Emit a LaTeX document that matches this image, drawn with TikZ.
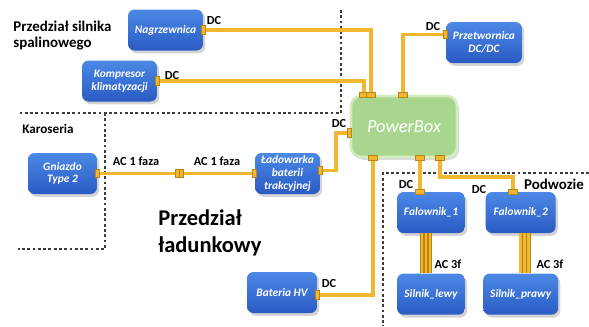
\documentclass[tikz,border=0pt]{standalone}
\usepackage{fontspec}
\setmainfont{Carlito}
\usetikzlibrary{positioning,calc,shadows}

\definecolor{unittop}{HTML}{4C88E6}
\definecolor{unitbot}{HTML}{2A5BC4}
\definecolor{hubfill}{HTML}{A8D68E}
\definecolor{hubedge}{HTML}{D2ECC0}
\definecolor{cablecol}{HTML}{F2B731}
\definecolor{cabledark}{HTML}{B98412}
\definecolor{zoneline}{HTML}{3C3C3C}

\begin{document}
\begin{tikzpicture}[x=0.02cm, y=-0.02cm,
  unit/.style={rounded corners=1.3mm, top color=unittop, bottom color=unitbot, draw=none,
    drop shadow={shadow xshift=1.2pt, shadow yshift=-1.6pt, opacity=0.35},
    minimum width=1.4cm, minimum height=0.82cm, align=center, inner sep=1pt,
    text=white, font=\fontsize{6.5}{7.2}\selectfont\bfseries\itshape},
  hub/.style={rounded corners=2mm, fill=hubfill, draw=hubedge, line width=1.5pt,
    drop shadow={shadow xshift=1.2pt, shadow yshift=-1.6pt, opacity=0.3},
    minimum width=2.12cm, minimum height=1.22cm, text=white,
    font=\fontsize{10.5}{12}\selectfont\itshape},
  cable/.style={draw=cablecol, line width=2.2pt},
  phase/.style={draw=cabledark, line width=0.3pt, double=cablecol, double distance=1.7pt},
  plugv/.style={draw=cabledark, fill=cablecol, line width=0.4pt, inner sep=0pt,
    minimum width=0.19cm, minimum height=0.1cm},
  plugh/.style={draw=cabledark, fill=cablecol, line width=0.4pt, inner sep=0pt,
    minimum width=0.08cm, minimum height=0.17cm},
  tag/.style={font=\fontsize{7}{8}\selectfont\bfseries, inner sep=0pt},
  zone/.style={font=\fontsize{8.5}{9}\selectfont\bfseries, align=left, inner sep=0pt},
  border/.style={draw=zoneline, line width=0.8pt, dash pattern=on 1.6pt off 1.4pt}
]
\useasboundingbox (0,0) rectangle (589,326);

% zones
\draw[border] (341,10) -- (341,113) -- (20,113);
\draw[border] (105,113) -- (105,249) -- (18,249);
\draw[border] (589,173) -- (383,173) -- (383,326);

\node[zone, anchor=north west] (zengine) at (13,21) {Przedział silnika\\spalinowego};
\node[zone, font=\fontsize{7.5}{9}\selectfont\bfseries] (zbody) at (48,129) {Karoseria};
\node[zone] (zchassis) at (554,184) {Podwozie};
\node[zone, anchor=north west, font=\fontsize{12.8}{15.3}\selectfont\bfseries] (zcargo) at (158,209) {Przedział\\ładunkowy};

% units
\node[unit, minimum width=1.5cm] (heater) at (165.5,30) {Nagrzewnica};
\node[unit, minimum width=1.5cm] (compr) at (119.5,81) {Kompresor\\klimatyzacji};
\node[unit, minimum width=1.52cm] (dcdc) at (484,42.5) {Przetwornica\\DC/DC};
\node[hub] (pbox) at (404,126.5) {PowerBox};
\node[unit, minimum width=1.38cm] (socket) at (62.5,173.5) {Gniazdo\\Type 2};
\node[unit, minimum width=1.3cm] (charger) at (287.5,173.5) {Ładowarka\\baterii\\trakcyjnej};
\node[unit] (battery) at (282,292.5) {Bateria HV};
\node[unit, minimum width=1.36cm] (inv1) at (431,212.5) {Falownik\_1};
\node[unit, right=0.4cm of inv1] (inv2) {Falownik\_2};
\node[unit, minimum width=1.36cm, below=0.8cm of inv1] (motl) {Silnik\_lewy};
\node[unit, minimum width=1.5cm, below=0.8cm of inv2] (motr) {Silnik\_prawy};

% ports
\coordinate (t1) at ($(pbox.north west)+(14,0)$);
\coordinate (t2) at ($(pbox.north west)+(21,0)$);
\coordinate (t3) at ($(pbox.north west)+(53,0)$);
\coordinate (l1) at ($(pbox.west)+(0,6.5)$);
\coordinate (b1) at ($(pbox.south west)+(23,0)$);
\coordinate (b2) at ($(pbox.south west)+(70,0)$);
\coordinate (b3) at ($(pbox.south west)+(90,0)$);
\coordinate (dcdcport) at ($(dcdc.west)+(0,-8)$);
\coordinate (chgport) at ($(charger.east)+(0,-3)$);
\coordinate (batport) at ($(battery.east)+(0,2.5)$);
\coordinate (inv1port) at (b2 |- inv1.north);
\coordinate (inv2port) at ($(inv2.north)+(-8,0)$);
\coordinate (acmid) at ($(socket.east)!0.52!(charger.west)$);

% cables
\draw[cable] (heater.east) -| (t2);
\draw[cable] (compr.east) -| (t1);
\draw[cable] (dcdcport) -| (t3);
\draw[cable] (chgport) -- ++(16,0) |- (l1);
\draw[cable] (socket.east) -- (charger.west);
\draw[cable] (batport) -| (b1);
\draw[cable] (b2) -- (inv1port);
\draw[cable] (b3) -- ++(0,19) -| (inv2port);
\foreach \dx in {-9,-5,-1}
  \draw[phase] ($(inv1.south)+(\dx,0)$) -- ($(motl.north)+(\dx,0)$);
\foreach \dx in {0,4,8}
  \draw[phase] ($(inv2.south)+(\dx,0)$) -- ($(motr.north)+(\dx,0)$);

% plugs
\foreach \p [count=\i] in {t1,t2,t3,b1,b2,b3,inv1port,inv2port}
  \node[plugv] (pv\i) at (\p) {};
\foreach \p [count=\i] in {heater.east,compr.east,dcdcport,l1,chgport,charger.west,socket.east,batport}
  \node[plugh] (ph\i) at (\p) {};
\node[plugh, xshift=-0.04cm] (acl) at (acmid) {};
\node[plugh, xshift=0.04cm] (acr) at (acmid) {};

% labels
\node[tag] (dc1) at (214,21) {DC};
\node[tag] (dc2) at (172,76) {DC};
\node[tag] (dc3) at (433,27) {DC};
\node[tag] (dc4) at (339,124) {DC};
\node[tag] (dc5) at (329,284) {DC};
\node[tag] (dc6) at (406,185) {DC};
\node[tag] (dc7) at (479,190) {DC};
\node[tag] (ac1) at (136,161) {AC 1 faza};
\node[tag] (ac2) at (217,161) {AC 1 faza};
\node[tag] (ac3) at (448,264) {AC 3f};
\node[tag] (ac4) at (550,264) {AC 3f};
\end{tikzpicture}
\end{document}
